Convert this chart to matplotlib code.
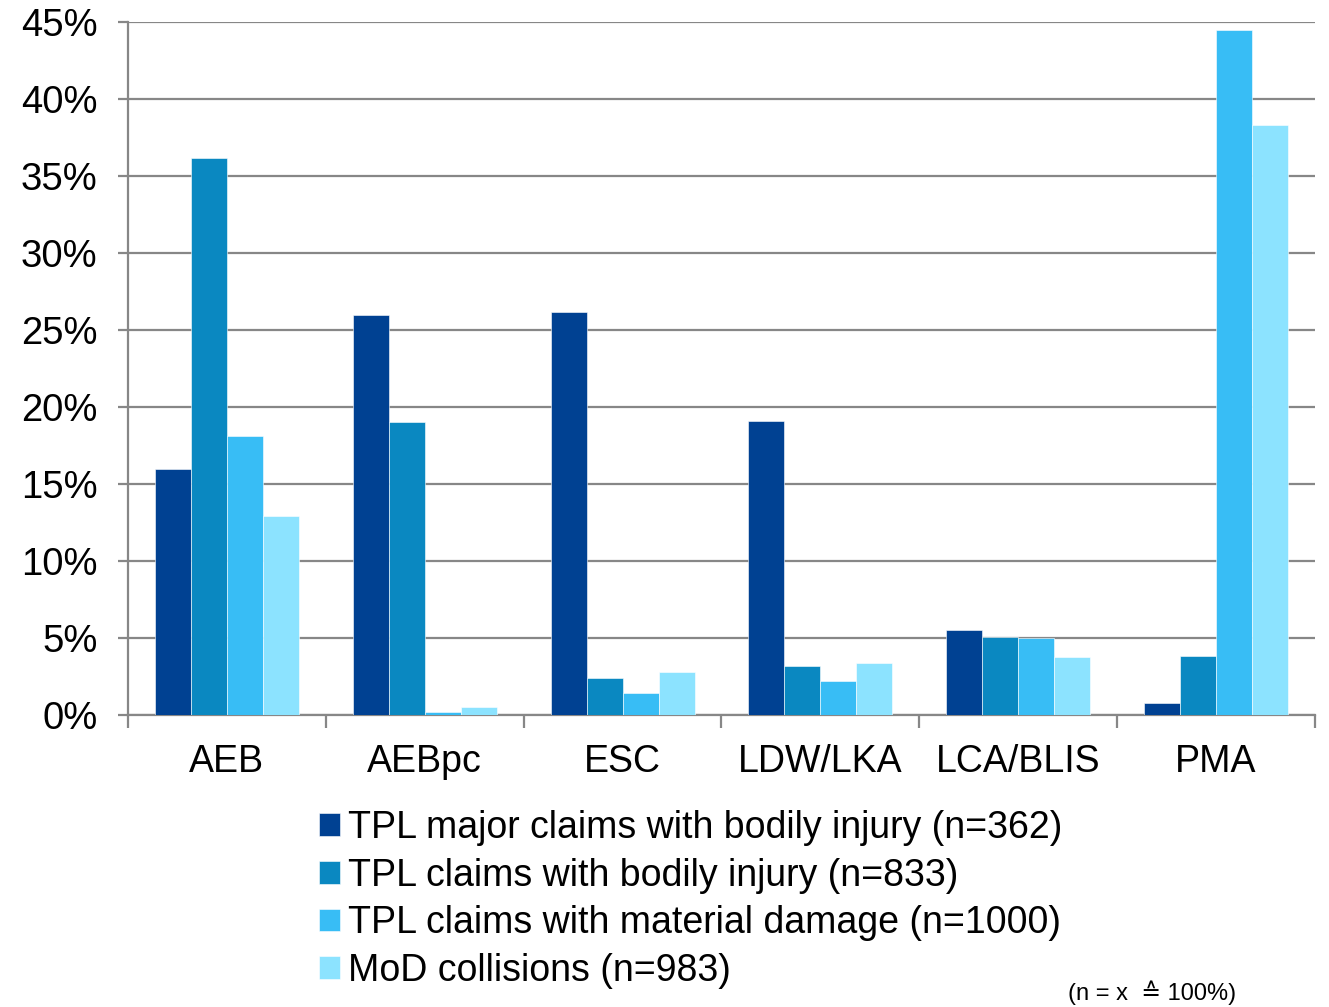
import numpy as np
import matplotlib
matplotlib.use("Agg")
import matplotlib.pyplot as plt
from matplotlib.ticker import FixedLocator, PercentFormatter

plt.rcParams['font.family'] = ['Liberation Sans', 'DejaVu Sans']

categories = ["AEB", "AEBpc", "ESC", "LDW/LKA", "LCA/BLIS", "PMA"]
series_names = [
    "TPL major claims with bodily injury (n=362)",
    "TPL claims with bodily injury (n=833)",
    "TPL claims with material damage (n=1000)",
    "MoD collisions (n=983)",
]
tpl_major_bodily = [16.0, 26.0, 26.2, 19.1, 5.5, 0.8]
tpl_bodily = [36.2, 19.0, 2.4, 3.2, 5.05, 3.8]
tpl_material = [18.1, 0.2, 1.4, 2.2, 5.0, 44.5]
mod_collisions = [12.9, 0.5, 2.8, 3.4, 3.75, 38.3]
values = [tpl_major_bodily, tpl_bodily, tpl_material, mod_collisions]
colors = ["#004192", "#0a88c1", "#38bdf5", "#8ce3ff"]
yticks = [0, 5, 10, 15, 20, 25, 30, 35, 40, 45]

fig = plt.figure(figsize=(13.29, 10.07), dpi=100)
ax = fig.add_axes([128 / 1329, 1 - 715 / 1007, (1315 - 128) / 1329, (715 - 22) / 1007])

x = np.arange(len(categories))
width = 0.182
handles = []
for i, (vals, col, name) in enumerate(zip(values, colors, series_names)):
    h = ax.bar(x + (i - 1.5) * width, vals, width, color=col, label=name,
               edgecolor="white", linewidth=0.4, zorder=3)
    handles.append(h)

ax.set_xlim(-0.5, len(categories) - 0.5)
ax.set_ylim(0, 45)
ax.yaxis.set_major_locator(FixedLocator(yticks))
ax.yaxis.set_major_formatter(PercentFormatter(decimals=0))
ax.grid(axis="y", color="#878787", linewidth=1.6, zorder=0)

# category boundaries as major ticks, labels centred on minor ticks
ax.xaxis.set_major_locator(FixedLocator(np.arange(-0.5, len(categories), 1.0)))
ax.xaxis.set_major_formatter(plt.NullFormatter())
ax.xaxis.set_minor_locator(FixedLocator(x))
ax.set_xticklabels(categories, minor=True)
ax.tick_params(axis="x", which="major", length=9, width=1.6, color="#878787")
ax.tick_params(axis="x", which="minor", length=0, pad=21, labelsize=27)
ax.tick_params(axis="y", length=7, width=1.6, color="#878787", pad=15, labelsize=27.5)

for side in ["top", "right"]:
    ax.spines[side].set_visible(False)
for side in ["left", "bottom"]:
    ax.spines[side].set_color("#878787")
    ax.spines[side].set_linewidth(1.6)

fig.legend(handles=handles, loc="upper left", bbox_to_anchor=(319 / 1329, 1 - 810 / 1007),
           frameon=False, fontsize=27, handlelength=0.55, handleheight=0.55,
           handletextpad=0.22, labelspacing=0.31, borderpad=0, borderaxespad=0)

fig.text(1236 / 1329, 1 - 1005 / 1007, "(n = x  \u2259 100%)", ha="right", va="bottom",
         fontsize=17)

fig.savefig("out.png", dpi=100, facecolor="white")
